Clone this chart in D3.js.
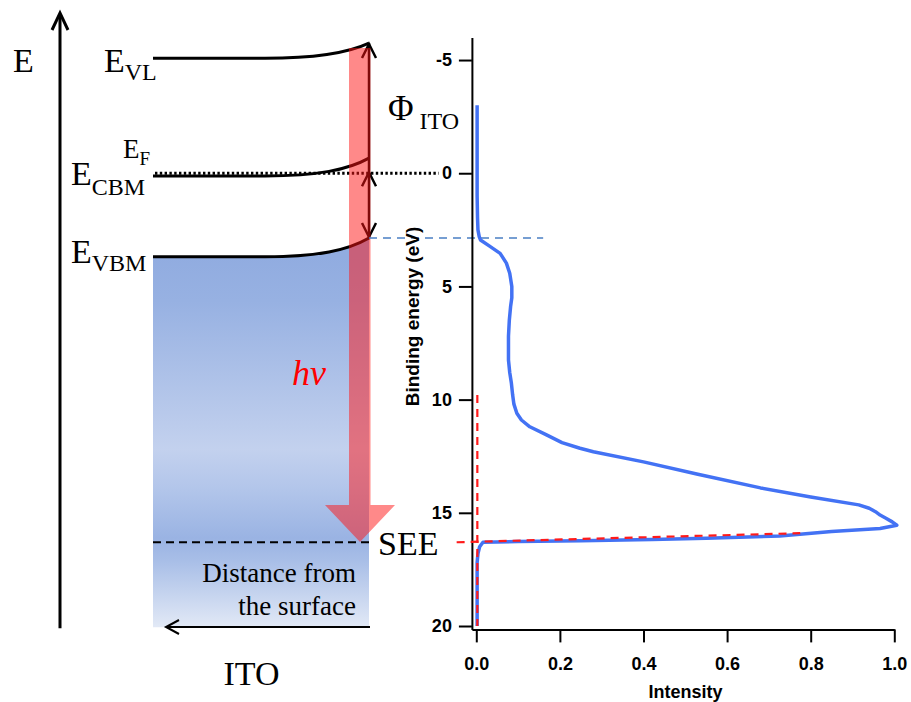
<!DOCTYPE html>
<html><head><meta charset="utf-8">
<script src="https://cdn.jsdelivr.net/npm/d3@7"></script>
<style>body{margin:0;background:#fff}svg{display:block}</style>
</head><body><svg id="c" width="911" height="702"></svg>
<script>
// ---- spectrum (binding energy in eV, normalised intensity) ----
const bindingEnergy = [-3.0,-1.0,1.0,2.0,2.5,2.8,2.95,3.2,3.54,3.97,4.42,5.0,5.5,5.9,6.5,7.2,8.25,8.8,9.28,9.8,10.2,10.6,10.9,11.2,11.56,11.9,12.15,12.3,12.75,13.3,13.9,14.3,14.65,14.8,14.95,15.1,15.24,15.4,15.55,15.69,15.83,16.02,16.12,16.18,16.23,16.27,16.3,16.5,16.8,17.2,18.5,20.0];
const intensity     = [0.002,0.002,0.002,0.003,0.004,0.007,0.01,0.03,0.057,0.072,0.08,0.085,0.085,0.082,0.079,0.077,0.077,0.08,0.084,0.087,0.09,0.097,0.108,0.128,0.168,0.205,0.248,0.28,0.40,0.53,0.68,0.80,0.915,0.94,0.955,0.966,0.98,0.995,1.006,0.966,0.85,0.726,0.55,0.42,0.25,0.10,0.016,0.008,0.004,0.002,0.002,0.002];
// linear fit of the secondary electron edge and the cut-off line
const seeFitIntensity = [-0.047, 0.775];
const seeFitEnergy    = [16.30, 15.90];
const cutoffIntensity = [0.0025, 0.0025];
const cutoffEnergy    = [9.8, 20.0];
const vbmMarkerEnergy = 2.86;
const vbmMarkerIntensity = 0.16;
const fermiEnergy = 0;
const fermiLineEndIntensity = -0.09;

// ---- axes ----
const yTickValues = [-5,0,5,10,15,20];
const yTickLabels = ["-5","0","5","10","15","20"];
const xTickValues = [0,0.2,0.4,0.6,0.8,1.0];
const xTickLabels = ["0.0","0.2","0.4","0.6","0.8","1.0"];
const yDomain = [-6, 20.15];
const xDomain = [-0.0105, 1.0];

// ---- band diagram levels (eV, same energy scale) ----
const levelNames   = ["VL","CBM","VBM"];
const levelFlat    = [-5.08, 0.12, 3.69];
const levelSurface = [-5.75, -0.67, 2.86];
const seeEnergy = 16.3;
const bulkBottomEnergy = 20.05;

const svg = d3.select("#c");
svg.append("rect").attr("width",911).attr("height",702).attr("fill","#fff");

const y = d3.scaleLinear().domain(yDomain).range([37.4, 629.4]);
const x = d3.scaleLinear().domain(xDomain).range([471.9, 894.3]);

const serif = "'Liberation Serif','Times New Roman',serif";
const sans = "'Liberation Sans',Arial,sans-serif";

// ================= LEFT: band diagram =================
const xL = 153, xS = 369;
function levelPath(flatE, surfE){
  const yf = y(flatE), ys = y(surfE);
  return `M${xL},${yf} H265 C${318},${yf} ${348},${yf + (ys-yf)*0.35} ${xS},${ys}`;
}
const defs = svg.append("defs");
const grad = defs.append("linearGradient").attr("id","bulk")
  .attr("gradientUnits","userSpaceOnUse").attr("x1",0).attr("x2",0)
  .attr("y1", y(levelFlat[2])).attr("y2", y(bulkBottomEnergy));
[[0,"#91ace0"],[0.12,"#97b1e2"],[0.52,"#c3d1ee"],[0.63,"#b2c5ea"],[0.76,"#9ab3e3"],[0.82,"#a8bee7"],[1,"#e2e9f6"]]
  .forEach(s=>grad.append("stop").attr("offset",s[0]).attr("stop-color",s[1]));

svg.append("path")
  .attr("d", levelPath(levelFlat[2], levelSurface[2]) + ` V${y(bulkBottomEnergy)} H${xL} Z`)
  .attr("fill","url(#bulk)");

// level lines
svg.selectAll("path.level").data(levelNames).enter().append("path")
  .attr("class","level")
  .attr("d",(d,i)=>levelPath(levelFlat[i], levelSurface[i]))
  .attr("fill","none").attr("stroke","#000").attr("stroke-width",3);

// Fermi level dotted line
svg.append("line").attr("x1",155).attr("x2",x(fermiLineEndIntensity))
  .attr("y1",y(fermiEnergy)).attr("y2",y(fermiEnergy))
  .attr("stroke","#000").attr("stroke-width",2.8).attr("stroke-dasharray","2.4,2.4");

// E axis arrow
svg.append("line").attr("x1",60).attr("x2",60).attr("y1",y(20.1)).attr("y2",14)
  .attr("stroke","#000").attr("stroke-width",3);
svg.append("path").attr("d","M52,30 L60,13 L68,30").attr("fill","none")
  .attr("stroke","#000").attr("stroke-width",3).attr("stroke-linejoin","miter");

// work function / gap arrows
const ax = xS;
svg.append("line").attr("x1",ax).attr("x2",ax).attr("y1",y(levelSurface[0])).attr("y2",y(vbmMarkerEnergy))
  .attr("stroke","#000").attr("stroke-width",2.5);
function chevron(xc, yt, dir){
  const h = 14*dir;
  return `M${xc-7},${yt+h} L${xc},${yt} L${xc+7},${yt+h}`;
}
svg.append("path").attr("d",chevron(ax, y(levelSurface[0])+1, 1)+" "+chevron(ax, y(fermiEnergy)-1, 1)+" "+chevron(ax, y(vbmMarkerEnergy)-1, -1))
  .attr("fill","none").attr("stroke","#000").attr("stroke-width",2.5);

// hv band arrow
svg.append("path")
  .attr("d",`M349,48 H370.5 V505 H395 L360,542 L325,505 H349 Z`)
  .attr("fill","rgb(255,20,20)").attr("fill-opacity",0.5);

// SEE dashed line
svg.append("line").attr("x1",xL).attr("x2",370).attr("y1",y(seeEnergy)).attr("y2",y(seeEnergy))
  .attr("stroke","#000").attr("stroke-width",2).attr("stroke-dasharray","8,5");

// bottom distance arrow
svg.append("line").attr("x1",370).attr("x2",166).attr("y1",627).attr("y2",627)
  .attr("stroke","#000").attr("stroke-width",2);
svg.append("path").attr("d","M179,620 L166,627 L179,634").attr("fill","none")
  .attr("stroke","#000").attr("stroke-width",2);

// labels
function sub(xp, yp, main, s, fs, ss, dy){
  const t = svg.append("text").attr("x",xp).attr("y",yp).attr("font-family",serif).attr("fill","#000");
  t.append("tspan").attr("font-size",fs).text(main);
  t.append("tspan").attr("font-size",ss).attr("dy",dy).text(s);
  return t;
}
svg.append("text").attr("x",13).attr("y",72).attr("font-family",serif).attr("font-size",34).text("E");
sub(104,72,"E",levelNames[0],34,24,8);
sub(71,185,"E",levelNames[1],34,24,10);
sub(71,263,"E",levelNames[2],34,24,7.5);
sub(123,158,"E","F",27,19,7);
sub(388,120,"Φ"," ITO",35,24,9);
svg.append("text").attr("x",292).attr("y",385).attr("font-family",serif).attr("font-style","italic")
  .attr("font-size",36).attr("fill","#ff0000").text("hν");
svg.append("text").attr("x",378).attr("y",555).attr("font-family",serif).attr("font-size",34).text("SEE");
svg.append("text").attr("x",356).attr("y",582).attr("text-anchor","end").attr("font-family",serif).attr("font-size",27).text("Distance from");
svg.append("text").attr("x",356).attr("y",615).attr("text-anchor","end").attr("font-family",serif).attr("font-size",27).text("the surface");
svg.append("text").attr("x",251.5).attr("y",685).attr("text-anchor","middle").attr("font-family",serif).attr("font-size",34).text("ITO");

// ================= RIGHT: spectrum =================
// blue dashed VBM marker
svg.append("line").attr("x1",xS).attr("x2",x(vbmMarkerIntensity))
  .attr("y1",y(vbmMarkerEnergy)).attr("y2",y(vbmMarkerEnergy))
  .attr("stroke","#4a7fc4").attr("stroke-width",1.6).attr("stroke-dasharray","8,6");

const yAxis = d3.axisLeft(y).tickValues(yTickValues).tickFormat((d,i)=>yTickLabels[i])
  .tickSize(13).tickSizeOuter(0).tickPadding(7);
const xAxis = d3.axisBottom(x).tickValues(xTickValues).tickFormat((d,i)=>xTickLabels[i])
  .tickSize(13).tickSizeOuter(0).tickPadding(15);

const gy = svg.append("g").attr("transform",`translate(${x.range()[0]},0)`).call(yAxis);
const gx = svg.append("g").attr("transform",`translate(0,${y.range()[1]})`).call(xAxis);
[gx,gy].forEach(g=>{
  g.selectAll("path.domain").attr("stroke","#000").attr("stroke-width",2);
  g.selectAll(".tick line").attr("stroke","#000").attr("stroke-width",2);
  g.selectAll(".tick text").attr("font-family",sans).attr("font-weight","bold").attr("font-size",18).attr("fill","#000");
});

svg.append("text").attr("transform",`translate(419,${316.5}) rotate(-90)`)
  .attr("text-anchor","middle").attr("font-family",sans).attr("font-weight","bold").attr("font-size",19)
  .text("Binding energy (eV)");
svg.append("text").attr("x",685.5).attr("y",698).attr("text-anchor","middle")
  .attr("font-family",sans).attr("font-weight","bold").attr("font-size",18).text("Intensity");

// spectrum line
const lineGen = d3.line().x(d=>x(d[0])).y(d=>y(d[1]));
const pts = bindingEnergy.map((b,i)=>[intensity[i], b]);
svg.append("path").datum(pts).attr("d", lineGen)
  .attr("fill","none").attr("stroke","#4372f4").attr("stroke-width",3.5).attr("stroke-linejoin","round");

// red dashed fits
svg.append("path").datum(seeFitIntensity.map((v,i)=>[v,seeFitEnergy[i]])).attr("d",lineGen)
  .attr("fill","none").attr("stroke","#ff1a1a").attr("stroke-width",2.2).attr("stroke-dasharray","8,6");
svg.append("path").datum(cutoffIntensity.map((v,i)=>[v,cutoffEnergy[i]])).attr("d",lineGen)
  .attr("fill","none").attr("stroke","#ff1a1a").attr("stroke-width",2.2).attr("stroke-dasharray","8,6");
</script></body></html>
